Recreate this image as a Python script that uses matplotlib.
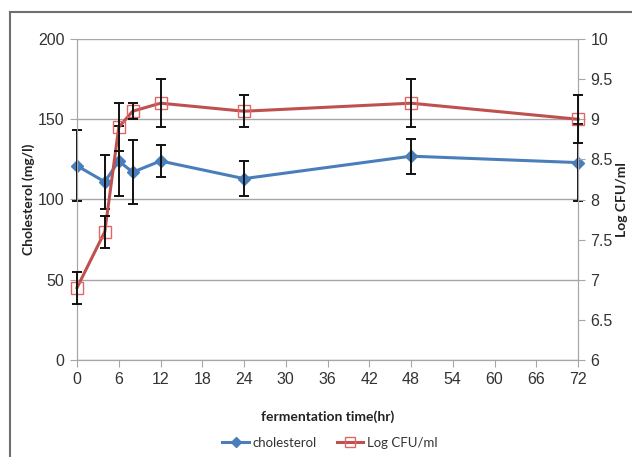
import matplotlib
matplotlib.use("Agg")
import matplotlib.pyplot as plt
from matplotlib.lines import Line2D

time_hr = [0, 4, 6, 8, 12, 24, 48, 72]
cholesterol = [121, 111, 124, 117, 124, 113, 127, 123]
cholesterol_err = [22, 17, 22, 20, 10, 11, 11, 24]
log_cfu = [6.9, 7.6, 8.9, 9.1, 9.2, 9.1, 9.2, 9.0]
log_cfu_err = [0.2, 0.2, 0.3, 0.1, 0.3, 0.2, 0.3, 0.3]

x_ticks = list(range(0, 73, 6))
left_ticks = [0, 50, 100, 150, 200]
right_ticks = [6, 6.5, 7, 7.5, 8, 8.5, 9, 9.5, 10]
right_labels = ["6", "6.5", "7", "7.5", "8", "8.5", "9", "9.5", "10"]

blue = "#4A7EBB"
red = "#C0504D"
red_marker = "#E06666"
grid_gray = "#A6A6A6"
tick_font = "Liberation Sans"
label_font = "Lato"


def unclip(container):
    for child in container.get_children():
        child.set_clip_on(False)


fig = plt.figure(figsize=(6.32, 4.57), dpi=100)
ax = fig.add_axes([77/632, 1-360/457, (578-77)/632, (360-39)/457])
ax2 = ax.twinx()

# cholesterol (left axis)
ax.plot(time_hr, cholesterol, color=blue, lw=2.2, marker="D", ms=6,
        mfc=blue, mec=blue, zorder=3, clip_on=False)
eb1 = ax.errorbar(time_hr, cholesterol, yerr=cholesterol_err, fmt="none",
                  ecolor="#111111", elinewidth=1.4, capsize=3.5, capthick=1.4,
                  zorder=4)
unclip(eb1)
ax.set_xlim(0, 72)
ax.set_ylim(0, 200)
ax.set_xticks(x_ticks)
ax.set_yticks(left_ticks)
ax.grid(axis="y", color=grid_gray, lw=1)
ax.set_axisbelow(True)
ax.spines["top"].set_visible(False)
for s in ["left", "bottom", "right"]:
    ax.spines[s].set_color(grid_gray)
ax.tick_params(axis="both", colors=grid_gray, labelcolor="#333333", length=5,
               labelsize=11.5, pad=4)
for lab in ax.get_xticklabels() + ax.get_yticklabels():
    lab.set_fontfamily(tick_font)
ax.set_ylabel("Cholesterol (mg/l)", fontsize=10, fontweight="bold",
              family=label_font, color="#222222")
ax.yaxis.set_label_coords((35-77)/501, 0.5)
ax.set_xlabel("fermentation time(hr)", fontsize=10, fontweight="bold",
              family=label_font, color="#222222")
ax.xaxis.set_label_coords(0.5, (360-410)/321)

# log CFU (right axis)
ax2.plot(time_hr, log_cfu, color=red, lw=2.2, zorder=3, clip_on=False)
ax2.plot(time_hr, log_cfu, ls="none", marker="s", ms=8, mfc="none",
         mec=red_marker, mew=1, zorder=3, clip_on=False)
eb2 = ax2.errorbar(time_hr, log_cfu, yerr=log_cfu_err, fmt="none",
                   ecolor="#111111", elinewidth=1.4, capsize=3.5, capthick=1.4,
                   zorder=4)
unclip(eb2)
ax2.set_ylim(6, 10)
ax2.set_yticks(right_ticks)
ax2.set_yticklabels(right_labels)
ax2.spines["top"].set_visible(False)
for s in ["left", "bottom", "right"]:
    ax2.spines[s].set_color(grid_gray)
ax2.tick_params(axis="y", colors=grid_gray, labelcolor="#333333", length=5,
                labelsize=11.5, pad=4)
for lab in ax2.get_yticklabels():
    lab.set_fontfamily(tick_font)
ax2.set_ylabel("Log CFU/ml", fontsize=10, fontweight="bold", family=label_font,
               color="#222222", rotation=90)
ax2.yaxis.set_label_coords((616-77)/501, 0.5)

# legend
handles = [
    Line2D([], [], color=blue, lw=2.2, marker="D", ms=5, mfc=blue, mec=blue),
    Line2D([], [], color=red, lw=2.2, marker="s", ms=7, mfc="none", mec=red_marker),
]
leg = fig.legend(handles, ["cholesterol", "Log CFU/ml"], loc="center",
                 bbox_to_anchor=(330/632, 1-443/457), ncol=2, frameon=False,
                 prop={"family": label_font, "size": 9.5}, handlelength=2.0,
                 columnspacing=1.5, handletextpad=0.3)
for t in leg.get_texts():
    t.set_color("#333333")

# chart border (partially visible)
bx = 10/632
by = 1 - 12/457
fig.add_artist(Line2D([bx, bx], [0, by], transform=fig.transFigure,
                      color="#6f6f6f", lw=1.5))
fig.add_artist(Line2D([bx, 1], [by, by], transform=fig.transFigure,
                      color="#6f6f6f", lw=1.5))

fig.savefig("out.png", dpi=100)
